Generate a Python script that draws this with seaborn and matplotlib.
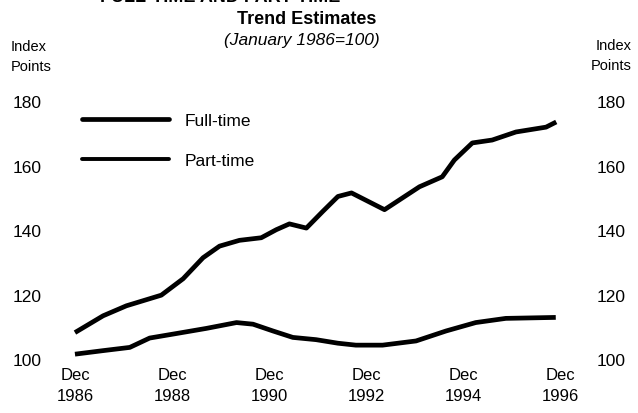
import matplotlib
matplotlib.use("Agg")
import matplotlib.pyplot as plt
import seaborn as sns
import pandas as pd
from matplotlib.lines import Line2D

# values (decimal year, index points)
ft_year = [1986.92, 1987.50, 1987.98, 1988.70, 1989.15, 1989.56, 1989.90, 1990.31,
           1990.76, 1991.07, 1991.34, 1991.69, 1992.03, 1992.34, 1992.62, 1993.30,
           1994.02, 1994.49, 1994.74, 1995.11, 1995.52, 1996.01, 1996.63, 1996.84]
ft_index = [108.2, 113.4, 116.5, 119.8, 124.9, 131.4, 135.0, 136.8,
            137.6, 140.1, 141.9, 140.6, 145.8, 150.4, 151.5, 146.3,
            153.4, 156.5, 161.7, 167.0, 167.9, 170.4, 171.9, 173.5]

pt_year = [1986.92, 1987.50, 1988.05, 1988.46, 1989.01, 1989.63, 1990.25, 1990.59,
           1991.00, 1991.41, 1991.89, 1992.34, 1992.71, 1993.26, 1993.95, 1994.57,
           1995.18, 1995.80, 1996.83]
pt_index = [101.5, 102.6, 103.6, 106.5, 107.9, 109.5, 111.3, 110.8,
            108.7, 106.7, 106.0, 104.9, 104.3, 104.3, 105.6, 108.7,
            111.3, 112.6, 112.9]

tick_years = [1986.92, 1988.92, 1990.92, 1992.92, 1994.92, 1996.92]
tick_labels = ["Dec\n1986", "Dec\n1988", "Dec\n1990", "Dec\n1992", "Dec\n1994", "Dec\n1996"]
y_ticks = [100, 120, 140, 160, 180]

df = pd.concat([
    pd.DataFrame({"year": ft_year, "index": ft_index, "series": "Full-time"}),
    pd.DataFrame({"year": pt_year, "index": pt_index, "series": "Part-time"}),
])

sns.set_style("white")
plt.rcParams["font.family"] = ["Liberation Sans", "DejaVu Sans"]
plt.rcParams["text.color"] = "black"
plt.rcParams["xtick.color"] = "black"
plt.rcParams["ytick.color"] = "black"

fig = plt.figure(figsize=(6.38, 4.14), dpi=100)
ax = fig.add_axes([0.1, 0.1304, 0.8, 0.6232])

sns.lineplot(data=df, x="year", y="index", hue="series", palette=["black", "black"],
             linewidth=3.4, legend=False, ax=ax, solid_capstyle="butt")

ax.set_xlim(1986.69, 1997.21)
ax.set_ylim(100, 180)
ax.set_xticks(tick_years)
ax.set_xticklabels(tick_labels, fontsize=12, linespacing=1.5)
ax.set_yticks(y_ticks)
ax.tick_params(axis="y", labelsize=12.5, length=0, pad=16, labelleft=True, labelright=True)
ax.tick_params(axis="x", length=0, pad=6)
ax.set_xlabel("")
ax.set_ylabel("")
sns.despine(ax=ax, left=True, bottom=True)

handles = [Line2D([], [], color="black", lw=3.4), Line2D([], [], color="black", lw=2.8)]
ax.legend(handles, ["Full-time", "Part-time"], loc="upper left", bbox_to_anchor=(0.024, 0.978),
          frameon=False, fontsize=12.5, handlelength=5.0, handletextpad=0.9,
          labelspacing=1.45, borderaxespad=0.0, borderpad=0.35, labelcolor="black")

# top line of the title is cut off in the reference scan
fig.text(0.345, 1.0 + 3 / 414, "FULL-TIME AND PART-TIME", ha="center", va="center",
         fontsize=13, fontweight="bold")
fig.text(0.48, 1 - 20 / 414, "Trend Estimates", ha="center", va="center",
         fontsize=13, fontweight="bold")
fig.text(0.473, 1 - 41 / 414, "(January 1986=100)", ha="center", va="center",
         fontsize=12.5, style="italic")
fig.text(0.017, 1 - 57 / 414, "Index\nPoints", ha="left", va="center", fontsize=10.5,
         linespacing=1.5)
fig.text(0.99, 1 - 56 / 414, "Index\nPoints", ha="right", va="center", fontsize=10.5,
         linespacing=1.5, multialignment="right")

fig.savefig("out.png", dpi=100)
